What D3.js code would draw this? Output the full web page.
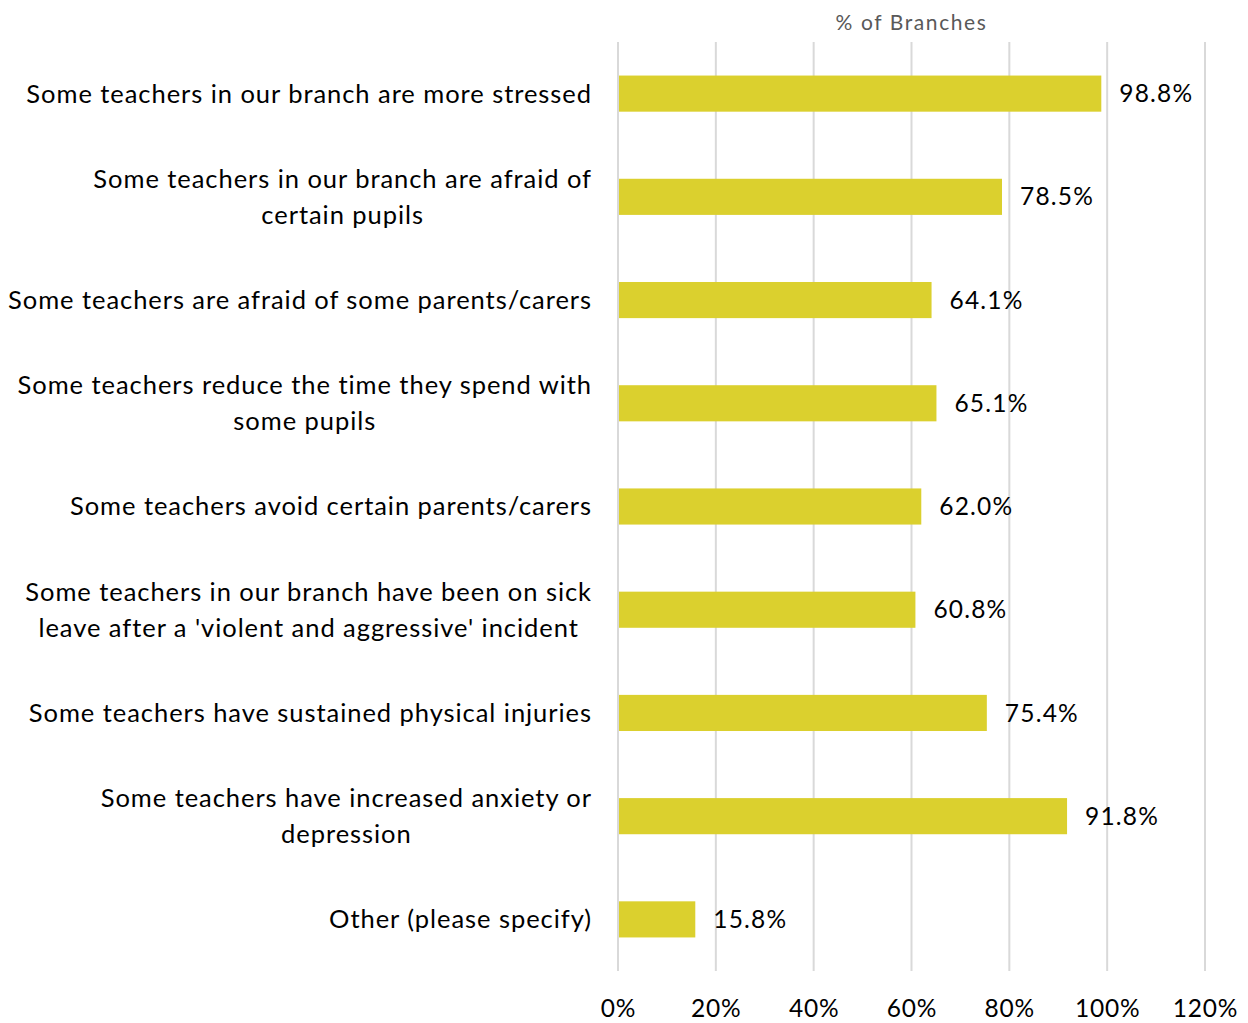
<!DOCTYPE html>
<html>
<head>
<meta charset="utf-8">
<script src="https://cdn.jsdelivr.net/npm/d3@7"></script>
<style>
  html, body { margin: 0; padding: 0; background: #fff; }
  svg { display: block; }
  text { font-family: Lato, "Open Sans", sans-serif; }
</style>
</head>
<body>
<svg id="chart" width="1248" height="1023"></svg>
<script>
// Categories (each entry is a list of wrapped lines) and their values in %
const categories = [
  ["Some teachers in our branch are more stressed"],
  ["Some teachers in our branch are afraid of", "certain pupils"],
  ["Some teachers are afraid of some parents/carers"],
  ["Some teachers reduce the time they spend with", "some pupils"],
  ["Some teachers avoid certain parents/carers"],
  ["Some teachers in our branch have been on sick", "leave after a 'violent and aggressive' incident"],
  ["Some teachers have sustained physical injuries"],
  ["Some teachers have increased anxiety or", "depression"],
  ["Other (please specify)"]
];
const values = [98.8, 78.5, 64.1, 65.1, 62.0, 60.8, 75.4, 91.8, 15.8];
const xTicks = [0, 20, 40, 60, 80, 100, 120];
const axisTitle = "% of Branches";

const svg = d3.select("#chart");
const margin = { top: 42, right: 43, bottom: 52, left: 618 };
const W = 1248, H = 1023;
const innerW = W - margin.left - margin.right;
const innerH = H - margin.top - margin.bottom;

const g = svg.append("g").attr("transform", `translate(${margin.left},${margin.top})`);

const x = d3.scaleLinear().domain([0, 120]).range([0, innerW]);
const y = d3.scaleBand().domain(d3.range(categories.length)).range([0, innerH]).paddingInner(0.65).paddingOuter(0.325);

// vertical gridlines
g.append("g").selectAll("line").data(xTicks).join("line")
  .attr("x1", d => x(d)).attr("x2", d => x(d))
  .attr("y1", 0).attr("y2", innerH)
  .attr("stroke", "#d9d9d9").attr("stroke-width", 2);

// x tick labels
const xAxis = d3.axisBottom(x).tickValues(xTicks).tickFormat(d => d + "%").tickSize(0).tickPadding(0);
const xa = g.append("g").attr("transform", `translate(0,${innerH + 37})`).call(xAxis);
xa.select(".domain").remove();
xa.selectAll("text")
  .attr("font-size", 24.5).attr("fill", "#000").attr("dy", "0.35em")
  .style("font-family", "Lato, 'Open Sans', sans-serif")
  .style("letter-spacing", "0.8px");

// bars
g.append("g").selectAll("rect").data(values).join("rect")
  .attr("x", x(0) + 1)
  .attr("y", (d, i) => y(i))
  .attr("width", d => x(d) - x(0) - 1)
  .attr("height", y.bandwidth())
  .attr("fill", "#dbd02e");

// value labels
g.append("g").selectAll("text").data(values).join("text")
  .attr("x", d => x(d) + 18)
  .attr("y", (d, i) => y(i) + y.bandwidth() / 2)
  .attr("dy", "0.35em")
  .attr("font-size", 24.5)
  .attr("fill", "#000")
  .style("letter-spacing", "1.2px")
  .text(d => d.toFixed(1) + "%");

// category labels: block right-aligned to the axis, lines centred within the block
const labelRight = -26;
const lineH = 36;
const lg = g.append("g");
categories.forEach((lines, i) => {
  const cy = y(i) + y.bandwidth() / 2;
  const grp = lg.append("g");
  const texts = lines.map((t, j) => grp.append("text")
    .attr("font-size", 25.5)
    .attr("fill", "#000")
    .attr("dy", "0.35em")
    .attr("text-anchor", "middle")
    .style("letter-spacing", "0.95px")
    .attr("y", cy + (j - (lines.length - 1) / 2) * lineH)
    .text(t));
  const widths = texts.map(t => t.node().getComputedTextLength());
  const blockW = d3.max(widths);
  texts.forEach(t => t.attr("x", labelRight - blockW / 2));
});

// axis title
svg.append("text")
  .attr("x", margin.left + x(60))
  .attr("y", 23)
  .attr("dy", "0.35em")
  .attr("text-anchor", "middle")
  .attr("font-size", 21)
  .attr("fill", "#595959")
  .style("letter-spacing", "1.6px")
  .text(axisTitle);
</script>
</body>
</html>
